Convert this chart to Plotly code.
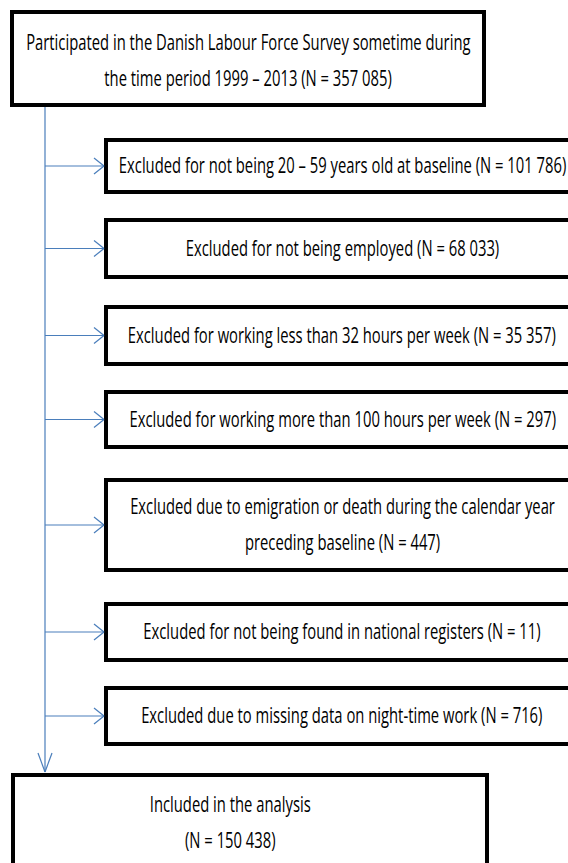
import plotly.graph_objects as go

W, H = 568, 863

# ---- data: flowchart texts ----
top_text = ["Participated in the Danish Labour Force Survey sometime during",
            "the time period 1999 \u2013 2013 (N = 357 085)"]
excl_text = [
    ["Excluded for not being 20 \u2013 59 years old at baseline (N = 101 786)"],
    ["Excluded for not being employed (N = 68 033)"],
    ["Excluded for working less than 32 hours per week (N = 35 357)"],
    ["Excluded for working more than 100 hours per week (N = 297)"],
    ["Excluded due to emigration or death during the calendar year",
     "preceding baseline (N = 447)"],
    ["Excluded for not being found in national registers (N = 11)"],
    ["Excluded due to missing data on night-time work (N = 716)"],
]
bottom_text = ["Included in the analysis", "(N = 150 438)"]

# ---- layout (pixel geometry) ----
top_box = (12, 12, 484, 105)
excl_x0, excl_x1 = 106, 620
excl_y = [(140, 192), (220, 277), (307, 364), (392, 447), (480, 570), (604, 660), (688, 744)]
bot_box = (13, 775, 487, 900)
spine_x = 45
blue = "#4a7ebb"
LINE_GAP = 36
FONT = dict(family="Open Sans, Liberation Sans, sans-serif", size=21, color="black")

fig = go.Figure()
shapes = []
annotations = []

def rect(x0, y0, x1, y1):
    shapes.append(dict(type="rect", x0=x0, y0=y0, x1=x1, y1=y1, xref="x", yref="y",
                       line=dict(color="black", width=4), fillcolor="white", layer="above"))

def line(x0, y0, x1, y1):
    shapes.append(dict(type="line", x0=x0, y0=y0, x1=x1, y1=y1, xref="x", yref="y",
                       line=dict(color=blue, width=1.2), layer="above"))

def text(x, yc, lines):
    n = len(lines)
    for i, s in enumerate(lines):
        y = yc + (i - (n - 1) / 2) * LINE_GAP
        annotations.append(dict(x=x, y=y, xref="x", yref="y", text=s,
                                showarrow=False, font=FONT, align="center",
                                xanchor="center", yanchor="middle"))

# top box
rect(*top_box)
text(248, 60, top_text)

# spine
line(spine_x, top_box[3] + 2, spine_x, bot_box[1] - 3)
line(spine_x - 7, bot_box[1] - 22, spine_x, bot_box[1] - 3)
line(spine_x + 7, bot_box[1] - 22, spine_x, bot_box[1] - 3)

# exclusion boxes + arrows
for (y0, y1), t in zip(excl_y, excl_text):
    rect(excl_x0, y0, excl_x1, y1)
    ym = (y0 + y1) / 2
    tip = excl_x0 - 2
    line(spine_x, ym, tip, ym)
    line(tip - 10, ym - 8, tip, ym)
    line(tip - 10, ym + 8, tip, ym)
    text(342, ym - 1, t)

# bottom box
rect(*bot_box)
text(230, 822, bottom_text)

fig.update_layout(
    width=W, height=H,
    margin=dict(l=0, r=0, t=0, b=0),
    paper_bgcolor="white", plot_bgcolor="white",
    xaxis=dict(range=[0, W], visible=False, fixedrange=True),
    yaxis=dict(range=[H, 0], visible=False, fixedrange=True),
    shapes=shapes, annotations=annotations, showlegend=False,
)

post = """
document.body.style.margin='0px';
document.body.style.overflow='hidden';
var gd=document.getElementById('{plot_id}');
gd.querySelectorAll('text.annotation-text').forEach(function(t){
  var b=t.getBBox(); var cx=b.x+b.width/2;
  t.setAttribute('transform','translate('+cx+',0) scale(0.705,1) translate('+(-cx)+',0)');
});
"""
fig.write_html("out.html", post_script=post, config={"staticPlot": True})
